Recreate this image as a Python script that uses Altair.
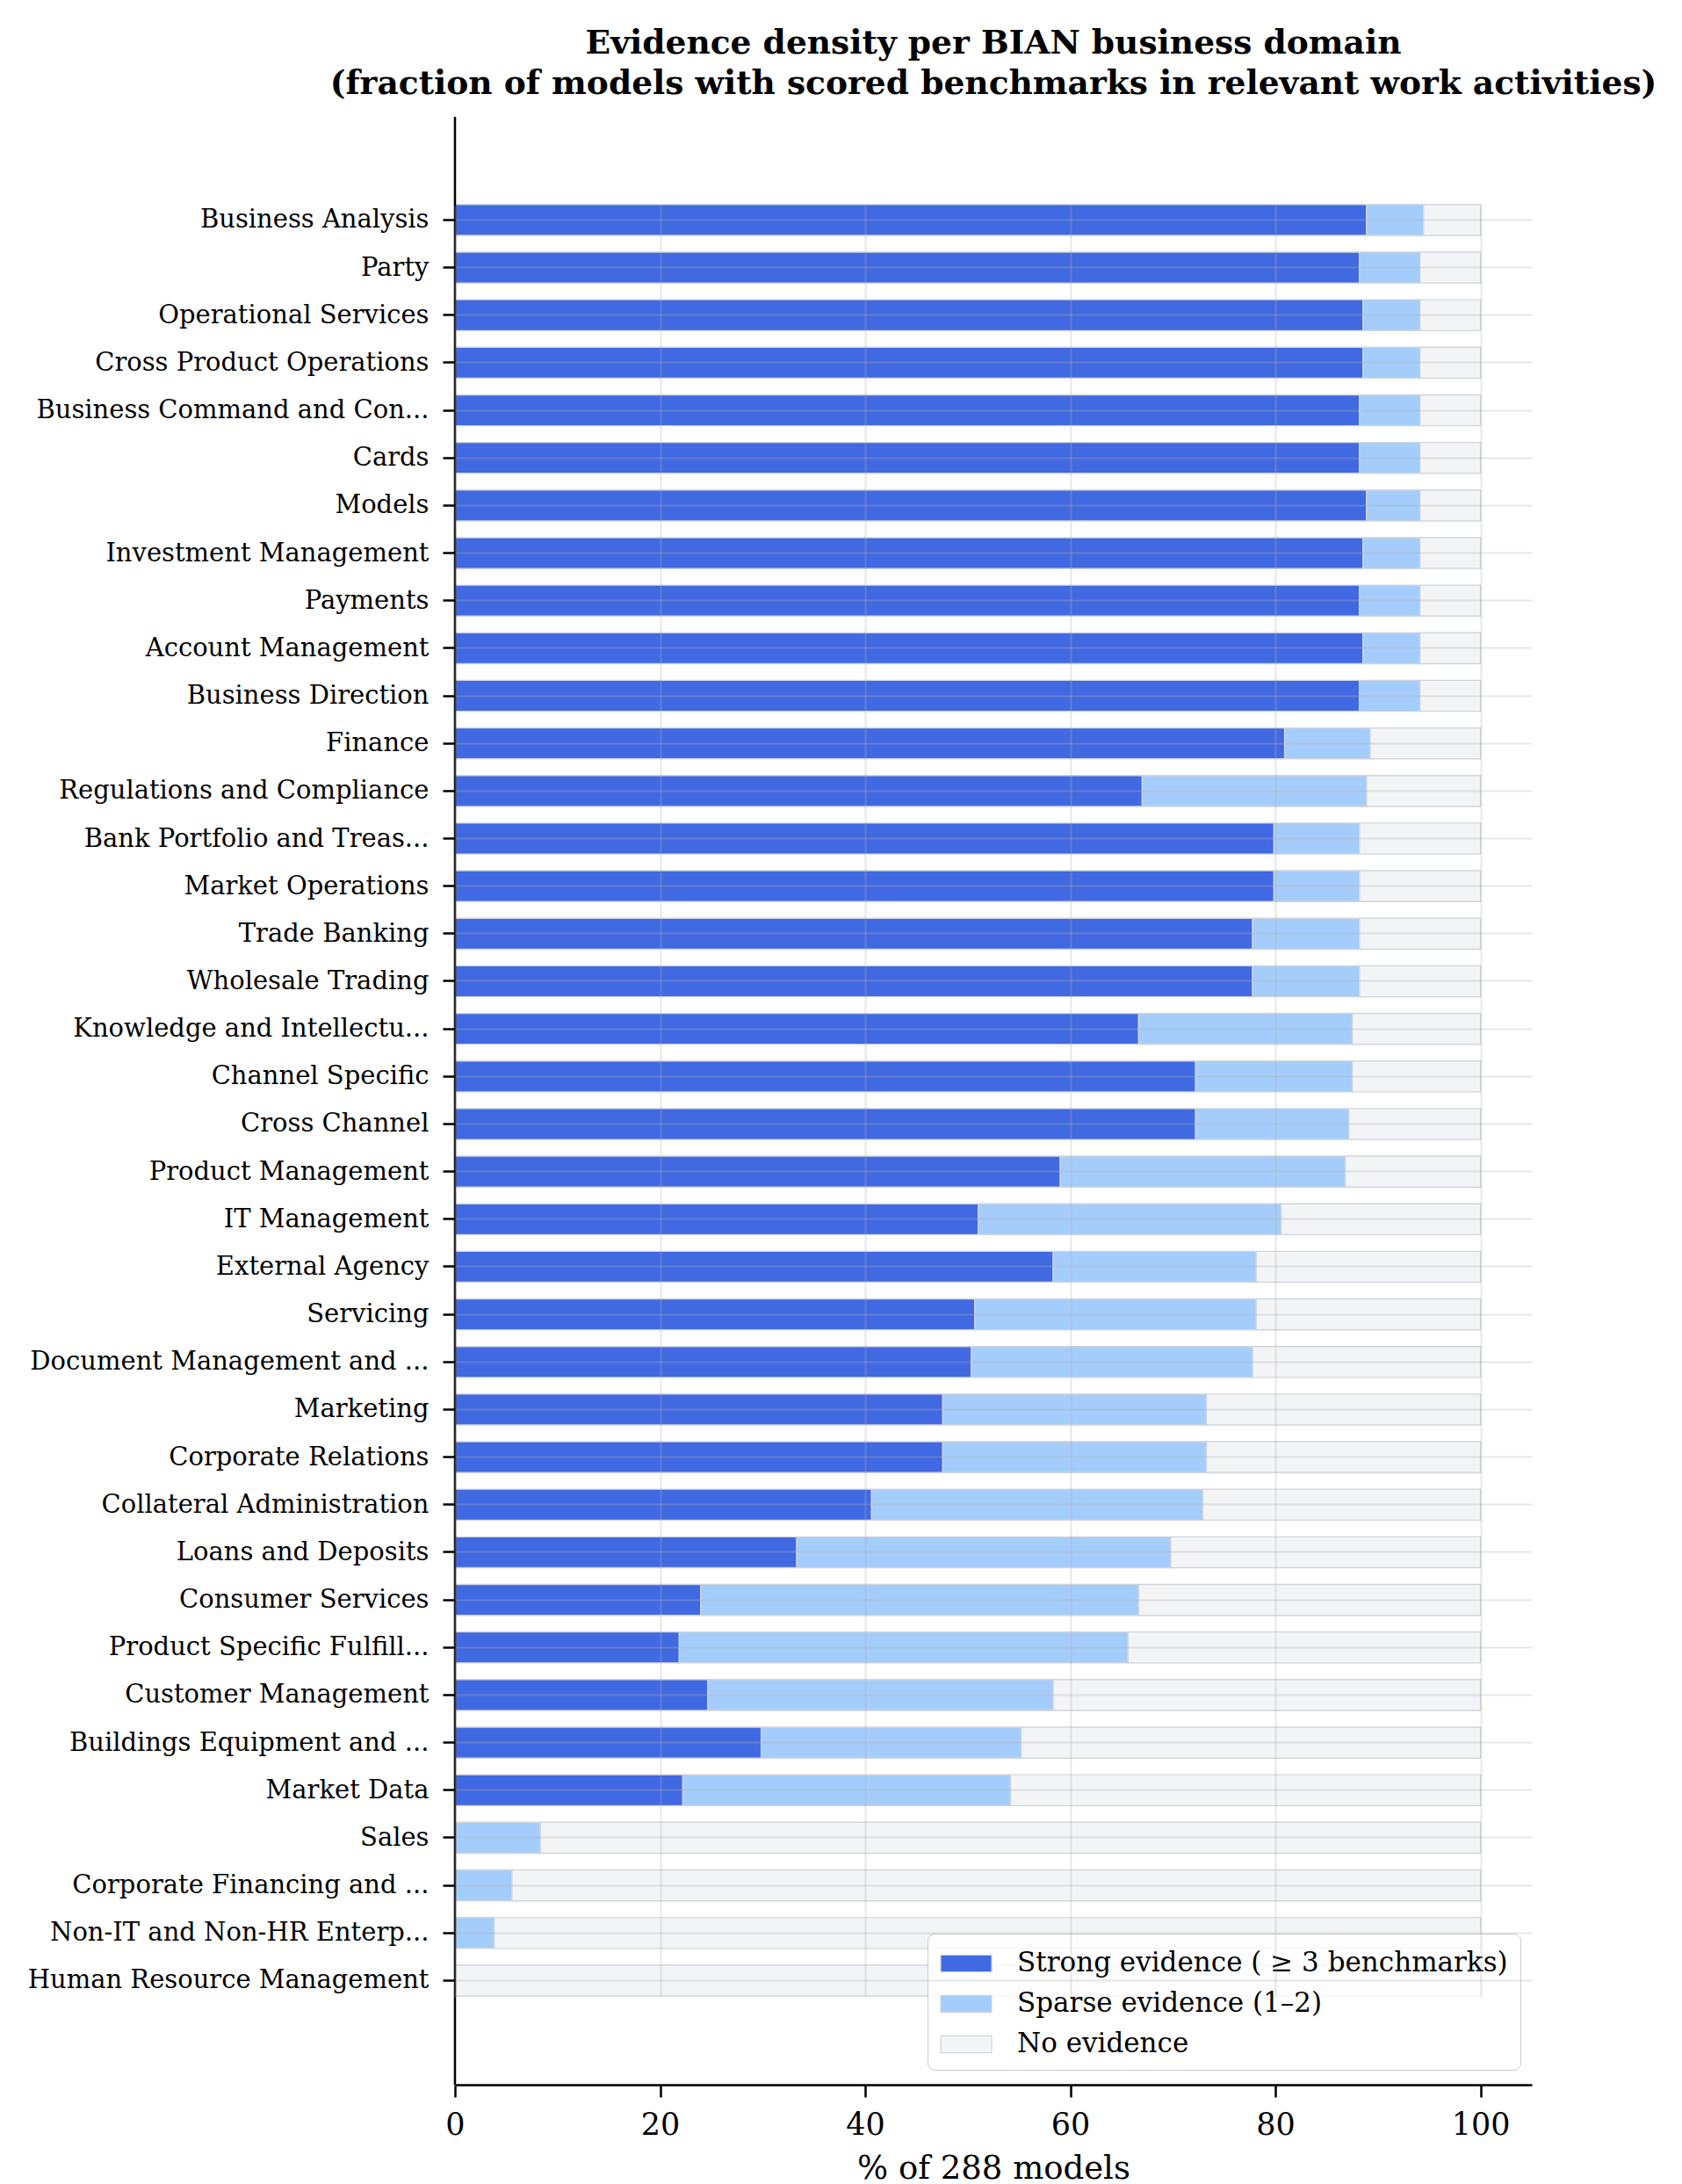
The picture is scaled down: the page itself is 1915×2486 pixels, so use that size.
import altair as alt
import pandas as pd

# BIAN business domains, ordered by share of models with any evidence
domains = [
    "Business Analysis", "Party", "Operational Services", "Cross Product Operations",
    "Business Command and Con...", "Cards", "Models", "Investment Management",
    "Payments", "Account Management", "Business Direction", "Finance",
    "Regulations and Compliance", "Bank Portfolio and Treas...", "Market Operations",
    "Trade Banking", "Wholesale Trading", "Knowledge and Intellectu...",
    "Channel Specific", "Cross Channel", "Product Management", "IT Management",
    "External Agency", "Servicing", "Document Management and ...", "Marketing",
    "Corporate Relations", "Collateral Administration", "Loans and Deposits",
    "Consumer Services", "Product Specific Fulfill...", "Customer Management",
    "Buildings Equipment and ...", "Market Data", "Sales",
    "Corporate Financing and ...", "Non-IT and Non-HR Enterp...",
    "Human Resource Management",
]

# number of models (out of 288) with >= 3 scored benchmarks
strong_models = [
    256, 254, 255, 255, 254, 254, 256, 255, 254, 255, 254, 233, 193, 230, 230,
    224, 224, 192, 208, 208, 170, 147, 168, 146, 145, 137, 137, 117, 96, 69,
    63, 71, 86, 64, 0, 0, 0, 0,
]

# number of models with only 1-2 scored benchmarks
sparse_models = [
    16, 17, 16, 16, 17, 17, 15, 16, 17, 16, 17, 24, 63, 24, 24, 30, 30, 60,
    44, 43, 80, 85, 57, 79, 79, 74, 74, 93, 105, 123, 126, 97, 73, 92, 24,
    16, 11, 0,
]

total_models = 288

levels = ["Strong evidence ( \u2265 3 benchmarks)", "Sparse evidence (1\u20132)", "No evidence"]
level_colors = ["#4169E1", "#A4CDFB", "#F3F4F6"]

rows = []
for name, s, p in zip(domains, strong_models, sparse_models):
    a = s / total_models * 100
    b = (s + p) / total_models * 100
    for lvl, lo, hi in zip(levels, [0.0, a, b], [a, b, 100.0]):
        if hi > lo:
            rows.append({"domain": name, "evidence": lvl, "start": lo, "end": hi})
df = pd.DataFrame(rows)

FONT = "DejaVu Serif"
PLOT_W = 1226
PLOT_H = 2240

legend = alt.Legend(
    title=None,
    orient="none",
    legendX=538,
    legendY=2068,
    direction="vertical",
    labelFont=FONT,
    labelFontSize=31,
    labelColor="black",
    labelLimit=900,
    labelOffset=38,
    symbolType="M-1.5,-0.5H1.5V0.5H-1.5Z",
    symbolSize=1495,
    symbolOffset=10,
    symbolStrokeColor="#D1D5DB",
    symbolStrokeWidth=1.2,
    symbolOpacity=1,
    rowPadding=11,
    padding=14,
    fillColor="rgba(255,255,255,0.8)",
    strokeColor="#CCCCCC",
    cornerRadius=8,
)

bars = alt.Chart(df).mark_bar(stroke="#D1D5DB", strokeWidth=1.4, opacity=1).encode(
    y=alt.Y(
        "domain:N",
        sort=domains,
        title=None,
        scale=alt.Scale(domain=domains, range=[99.8, 2139], paddingInner=0.35, paddingOuter=0),
        axis=alt.Axis(
            labelFont=FONT,
            labelFontSize=29,
            labelColor="black",
            labelLimit=700,
            labelPadding=16,
            tickSize=14,
            tickWidth=2.5,
            tickColor="black",
            domain=False,
            grid=True,
            gridColor="#b0b0b0",
            gridOpacity=0.3,
            gridWidth=2,
            bandPosition=0.5,
            zindex=1,
        ),
    ),
    x=alt.X(
        "start:Q",
        title="% of 288 models",
        scale=alt.Scale(domain=[0, 105], nice=False, zero=True),
        axis=alt.Axis(
            values=[0, 20, 40, 60, 80, 100],
            format="d",
            labelFont=FONT,
            labelFontSize=35,
            labelColor="black",
            labelPadding=14,
            labelFlush=False,
            titleFont=FONT,
            titleFontSize=37,
            titleFontWeight="normal",
            titleColor="black",
            titlePadding=14,
            tickSize=14,
            tickWidth=2.5,
            tickColor="black",
            domainColor="black",
            domainWidth=2.5,
            grid=True,
            gridColor="#b0b0b0",
            gridOpacity=0.3,
            gridWidth=2,
            zindex=1,
        ),
    ),
    x2="end:Q",
    color=alt.Color(
        "evidence:N",
        scale=alt.Scale(domain=levels, range=level_colors),
        legend=legend,
    ),
)

# left spine running the full height of the plot area
spine = alt.Chart(pd.DataFrame({"k": [0]})).mark_rule(color="black", strokeWidth=2.5).encode(
    x=alt.value(0), y=alt.value(0), y2=alt.value(PLOT_H)
)

chart = alt.layer(bars, spine).properties(
    width=PLOT_W,
    height=PLOT_H,
    title=alt.TitleParams(
        text=[
            "Evidence density per BIAN business domain",
            "(fraction of models with scored benchmarks in relevant work activities)",
        ],
        font=FONT,
        fontSize=37.6,
        fontWeight="bold",
        color="black",
        anchor="middle",
        frame="group",
        lineHeight=46,
        offset=17.5,
    ),
    padding={"left": 518, "top": 133, "right": 171, "bottom": 113},
    autosize=alt.AutoSizeParams(type="none"),
).configure(background="white").configure_view(stroke=None)

chart.save("out.html", embed_options={"renderer": "svg", "actions": False})
